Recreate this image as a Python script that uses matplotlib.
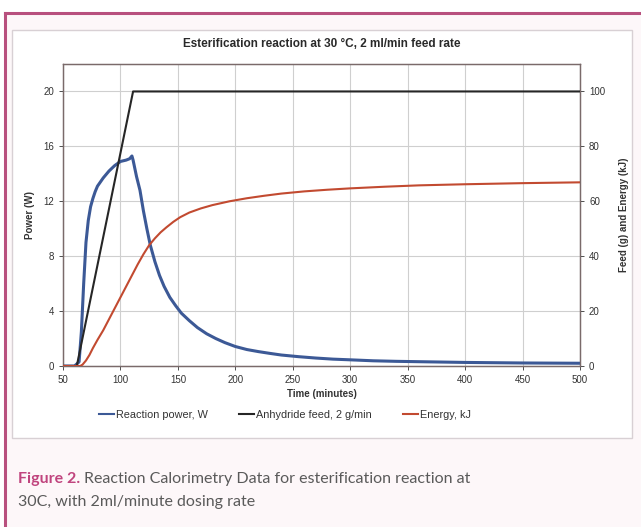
import matplotlib
matplotlib.use("Agg")
import matplotlib.pyplot as plt
from matplotlib.patches import Rectangle
from matplotlib.lines import Line2D

# ---- data ----
t_power = [50, 60, 64, 66, 68, 70, 72, 74, 76, 78, 80, 85, 90, 95, 100, 105, 108, 110,
           111, 112, 114, 117, 120, 123, 126, 130, 134, 138, 143, 148, 153, 160, 167,
           175, 183, 191, 200, 210, 220, 230, 240, 255, 270, 285, 300, 320, 340, 370,
           400, 450, 500]
power = [0, 0, 0.3, 2.5, 6, 9, 10.6, 11.6, 12.2, 12.7, 13.1, 13.7, 14.2, 14.6, 14.9, 15.0,
         15.1, 15.3, 15.0, 14.6, 13.8, 12.8, 11.3, 10.0, 8.8, 7.6, 6.6, 5.8, 5.0, 4.4,
         3.85, 3.3, 2.8, 2.35, 2.0, 1.7, 1.42, 1.2, 1.05, 0.92, 0.8, 0.68, 0.58, 0.5,
         0.45, 0.38, 0.34, 0.3, 0.26, 0.22, 0.2]

t_feed = [50, 62, 111, 500]
feed = [0, 0, 100, 100]

t_energy = [50, 65, 67, 70, 73, 76, 80, 85, 90, 95, 100, 105, 110, 115, 120, 125, 130,
            135, 140, 146, 152, 160, 170, 180, 195, 210, 225, 240, 260, 280, 300, 330,
            360, 400, 450, 500]
energy = [0, 0, 0.5, 2, 4, 6.5, 9.5, 13, 17, 21, 25, 29, 33, 37, 40.7, 44, 46.5, 48.7,
          50.5, 52.5, 54.2, 55.9, 57.4, 58.6, 60.0, 61.1, 62.0, 62.8, 63.6, 64.2, 64.7,
          65.3, 65.8, 66.2, 66.6, 66.9]

x_ticks = [50, 100, 150, 200, 250, 300, 350, 400, 450, 500]
left_ticks = [0, 4, 8, 12, 16, 20]
right_ticks = [0, 20, 40, 60, 80, 100]

title = "Esterification reaction at 30 \u00b0C, 2 ml/min feed rate"
labels = ["Reaction power, W", "Anhydride feed, 2 g/min", "Energy, kJ"]

C_BLUE = "#3c5996"
C_BLACK = "#262626"
C_RED = "#c24a30"
PINK = "#b8507e"

plt.rcParams['font.family'] = ['Liberation Sans', 'DejaVu Sans']

W, H = 641, 527
fig = plt.figure(figsize=(W / 100, H / 100), dpi=100)
fig.patch.set_facecolor("white")

def fx(px):
    return px / W

def fy(py):
    return 1 - py / H

# faint pink background inside border
fig.patches.append(Rectangle((fx(5), 0), 1 - fx(5), fy(13), transform=fig.transFigure,
                             facecolor="#fdf7f9", edgecolor="none", zorder=0))
# pink border lines
fig.add_artist(Line2D([fx(5), fx(5)], [0, fy(13)], color=PINK, lw=2.2, transform=fig.transFigure))
fig.add_artist(Line2D([fx(5), 1], [fy(13), fy(13)], color=PINK, lw=2.2, transform=fig.transFigure))
# chart box
fig.patches.append(Rectangle((fx(12), fy(438)), fx(632) - fx(12), fy(30) - fy(438),
                             transform=fig.transFigure, facecolor="white",
                             edgecolor="#d8d0d4", lw=1.0, zorder=0.5))

ax = fig.add_axes([fx(63), fy(366), fx(580) - fx(63), fy(64) - fy(366)])
ax.set_zorder(2)
ax2 = ax.twinx()

ax.set_xlim(50, 500)
ax.set_ylim(0, 22)
ax2.set_ylim(0, 110)
ax.set_xticks(x_ticks)
ax.set_yticks(left_ticks)
ax2.set_yticks(right_ticks)
ax.grid(True, color="#cfcfcf", lw=0.8)
ax.set_axisbelow(True)

for a in (ax, ax2):
    for s in a.spines.values():
        s.set_color("#7a6a6a")
        s.set_linewidth(0.9)
    a.tick_params(labelsize=7, colors="#333333", length=3, width=0.6)

ax.plot(t_power, power, color=C_BLUE, lw=2.2, zorder=3, solid_joinstyle="round")
ax2.plot(t_feed, feed, color=C_BLACK, lw=1.5, zorder=3)
ax2.plot(t_energy, energy, color=C_RED, lw=1.5, zorder=3, solid_joinstyle="round")
ax.patch.set_visible(False)

ax.set_ylabel("Power (W)", fontsize=7, fontweight="bold", color="#333333", labelpad=6)
ax2.set_ylabel("Feed (g) and Energy (kJ)", fontsize=7, fontweight="bold", color="#333333", labelpad=10)
ax.set_xlabel("Time (minutes)", fontsize=7, fontweight="bold", color="#333333", labelpad=3)

fig.text(fx(322), fy(44), title, ha="center", va="center", fontsize=8.5,
         fontweight="bold", color="#2a2a2a")

handles = [Line2D([], [], color=C_BLUE, lw=1.5),
           Line2D([], [], color=C_BLACK, lw=1.5),
           Line2D([], [], color=C_RED, lw=1.5)]
fig.legend(handles, labels, loc="center", bbox_to_anchor=(fx(285), fy(415)), ncol=3,
           frameon=False, fontsize=7.8, handlelength=1.4, handletextpad=0.15,
           columnspacing=2.9, labelcolor="#333333")

# caption
cap_font = ['Lato', 'DejaVu Sans']
t1 = fig.text(fx(18), fy(479), "Figure 2.", ha="left", va="center", fontsize=11.5,
              color="#c0447e", family=cap_font, fontweight="bold")
fig.canvas.draw()
bb = t1.get_window_extent()
fig.text(bb.x1 / W + 0.006, fy(479), "Reaction Calorimetry Data for esterification reaction at",
         ha="left", va="center", fontsize=11.5, color="#5a5a5a", family=cap_font)
fig.text(fx(18), fy(502), "30C, with 2ml/minute dosing rate", ha="left", va="center",
         fontsize=11.5, color="#5a5a5a", family=cap_font)

fig.savefig("out.png", dpi=100)
